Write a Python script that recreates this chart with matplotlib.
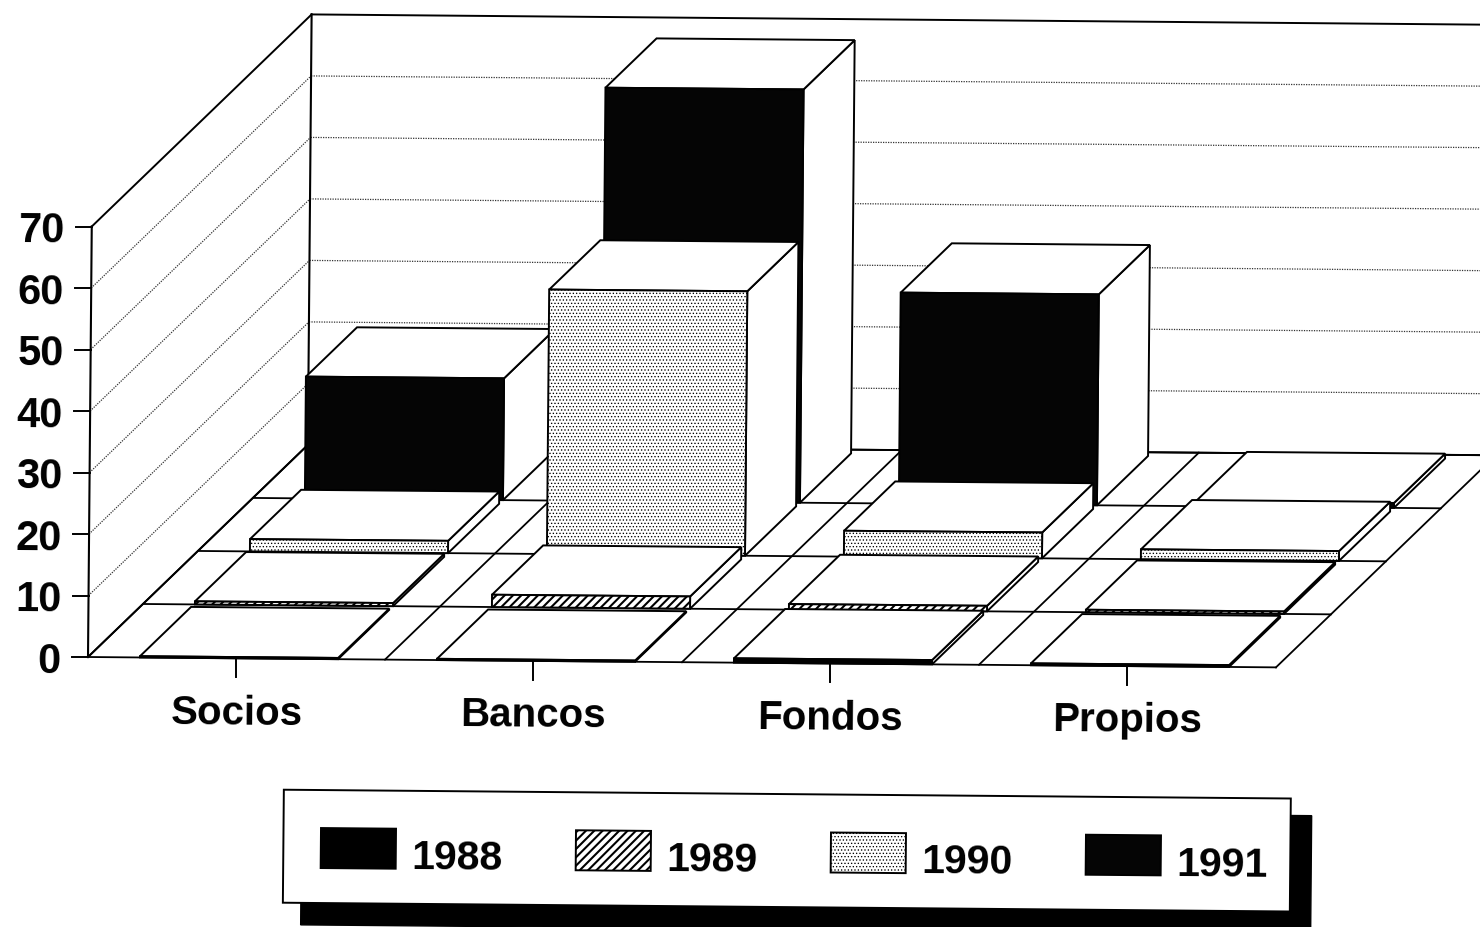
import numpy as np
import matplotlib
matplotlib.use('Agg')
import matplotlib.pyplot as plt
from matplotlib.patches import Polygon

plt.rcParams['font.family'] = ['Liberation Sans', 'DejaVu Sans']

# Data
categories = ['Socios', 'Bancos', 'Fondos', 'Propios']
years = ['1988', '1989', '1990', '1991']
values_1988 = [0.2, 0.2, 0.7, 0.3]
values_1989 = [0.5, 2.0, 0.9, 0.4]
values_1990 = [2.0, 43.0, 4.2, 1.6]
values_1991 = [19.8, 67.2, 34.3, 0.8]
y_ticks = [0, 10, 20, 30, 40, 50, 60, 70]

# Page geometry in pixels (the scan is turned by about half a degree)
origin = np.array([88.0, 657.0])
tilt = np.deg2rad(0.5)
cat_step = 297.0
row_step = np.array([54.5, -53.5])
unit = 6.15
bar_offset = 0.175
bar_width = 0.667
bar_depth = 0.93


def turn(x, y):
    # rotate page point around the chart origin
    dx, dy = x - origin[0], y - origin[1]
    return (origin[0] + dx * np.cos(tilt) - dy * np.sin(tilt),
            origin[1] + dx * np.sin(tilt) + dy * np.cos(tilt))


def project(cat, row, value):
    # category position, depth row and value -> picture pixels
    x = origin[0] + cat * cat_step + row * row_step[0]
    y = origin[1] + row * row_step[1] - value * unit
    return turn(x, y)


def hatched_face(ax, corners, face, hatch, hatch_lw, zorder):
    patch = Polygon(corners, facecolor=face, edgecolor='black', lw=1.4, hatch=hatch, zorder=zorder)
    patch.set_hatch_linewidth(hatch_lw)
    ax.add_patch(patch)


def draw_bar(ax, cat, row, value, face, hatch=None, hatch_lw=1.0):
    left = cat + bar_offset
    right = left + bar_width
    back = row + bar_depth
    front_face = [project(left, row, 0), project(right, row, 0),
                  project(right, row, value), project(left, row, value)]
    side_face = [project(right, row, 0), project(right, back, 0),
                 project(right, back, value), project(right, row, value)]
    top_face = [project(left, row, value), project(right, row, value),
                project(right, back, value), project(left, back, value)]
    ax.add_patch(Polygon(side_face, facecolor='white', edgecolor='black', lw=1.4, zorder=3))
    ax.add_patch(Polygon(top_face, facecolor='white', edgecolor='black', lw=1.4, zorder=3))
    hatched_face(ax, front_face, face, hatch, hatch_lw, 3)


def page_box(x0, y0, x1, y1):
    return [turn(x0, y0), turn(x1, y0), turn(x1, y1), turn(x0, y1)]


fig = plt.figure(figsize=(14.8, 9.27), dpi=100)
ax = fig.add_axes([0, 0, 1, 1])
ax.set_xlim(0, 1480)
ax.set_ylim(927, 0)
ax.axis('off')

n_cats = len(categories)
n_rows = len(years)

# Walls
for v in y_ticks:
    style = '-' if v in (0, 70) else (0, (1, 1))
    color = 'black' if v in (0, 70) else '#333333'
    width = 1.4 if v in (0, 70) else 0.9
    a = project(0, 0, v)
    b = project(0, n_rows, v)
    c = project(n_cats, n_rows, v)
    ax.plot([a[0], b[0]], [a[1], b[1]], color=color, lw=width, ls=style)
    ax.plot([b[0], c[0]], [b[1], c[1]], color=color, lw=width, ls=style)

    # value axis ticks and labels
    ax.plot([a[0] - 16, a[0]], [a[1], a[1]], color='black', lw=1.4)
    ax.text(a[0] - 27, a[1] + 5, str(v), ha='right', va='center', fontsize=30,
            fontweight='bold', rotation=-0.5, rotation_mode='anchor')

a = project(0, 0, 0)
b = project(0, 0, 70)
ax.plot([a[0], b[0]], [a[1], b[1]], color='black', lw=1.5)
a = project(0, n_rows, 0)
b = project(0, n_rows, 70)
ax.plot([a[0], b[0]], [a[1], b[1]], color='black', lw=1.5)

# Floor grid
for row in range(n_rows + 1):
    a = project(0, row, 0)
    b = project(n_cats, row, 0)
    ax.plot([a[0], b[0]], [a[1], b[1]], color='black', lw=1.3)
for cat in range(n_cats + 1):
    a = project(cat, 0, 0)
    b = project(cat, n_rows, 0)
    ax.plot([a[0], b[0]], [a[1], b[1]], color='black', lw=1.3)

# Category ticks and labels
for i, name in enumerate(categories):
    a = project(i + 0.5, 0, 0)
    ax.plot([a[0], a[0]], [a[1] + 1, a[1] + 19], color='black', lw=1.4)
    ax.text(a[0], a[1] + 55, name, ha='center', va='center', fontsize=29,
            fontweight='bold', rotation=-0.5, rotation_mode='anchor')

# Bars, back row first
series = [values_1988, values_1989, values_1990, values_1991]
faces = ['#000000', 'white', 'white', '#050505']
hatches = [None, '////', '.....', None]
hatch_widths = [1.0, 1.5, 0.55, 1.0]
for row in range(n_rows - 1, -1, -1):
    for cat in range(n_cats):
        draw_bar(ax, cat, row, series[row][cat], faces[row], hatches[row], hatch_widths[row])

# Legend box with its shadow
ax.add_patch(Polygon(page_box(303, 805, 1313, 923), facecolor='black', edgecolor='black', zorder=4))
ax.add_patch(Polygon(page_box(285, 788, 1292, 901), facecolor='white', edgecolor='black', lw=1.4, zorder=4))
for i, year in enumerate(years):
    sx = 322.5 + i * 255
    hatched_face(ax, page_box(sx, 826, sx + 75, 866), faces[i], hatches[i], hatch_widths[i], 5)
    tx, ty = turn(sx + 91, 855)
    ax.text(tx, ty, year, ha='left', va='center', fontsize=29.5, fontweight='bold',
            rotation=-0.5, rotation_mode='anchor', zorder=5)

fig.savefig('out.png', dpi=100, facecolor='white')
